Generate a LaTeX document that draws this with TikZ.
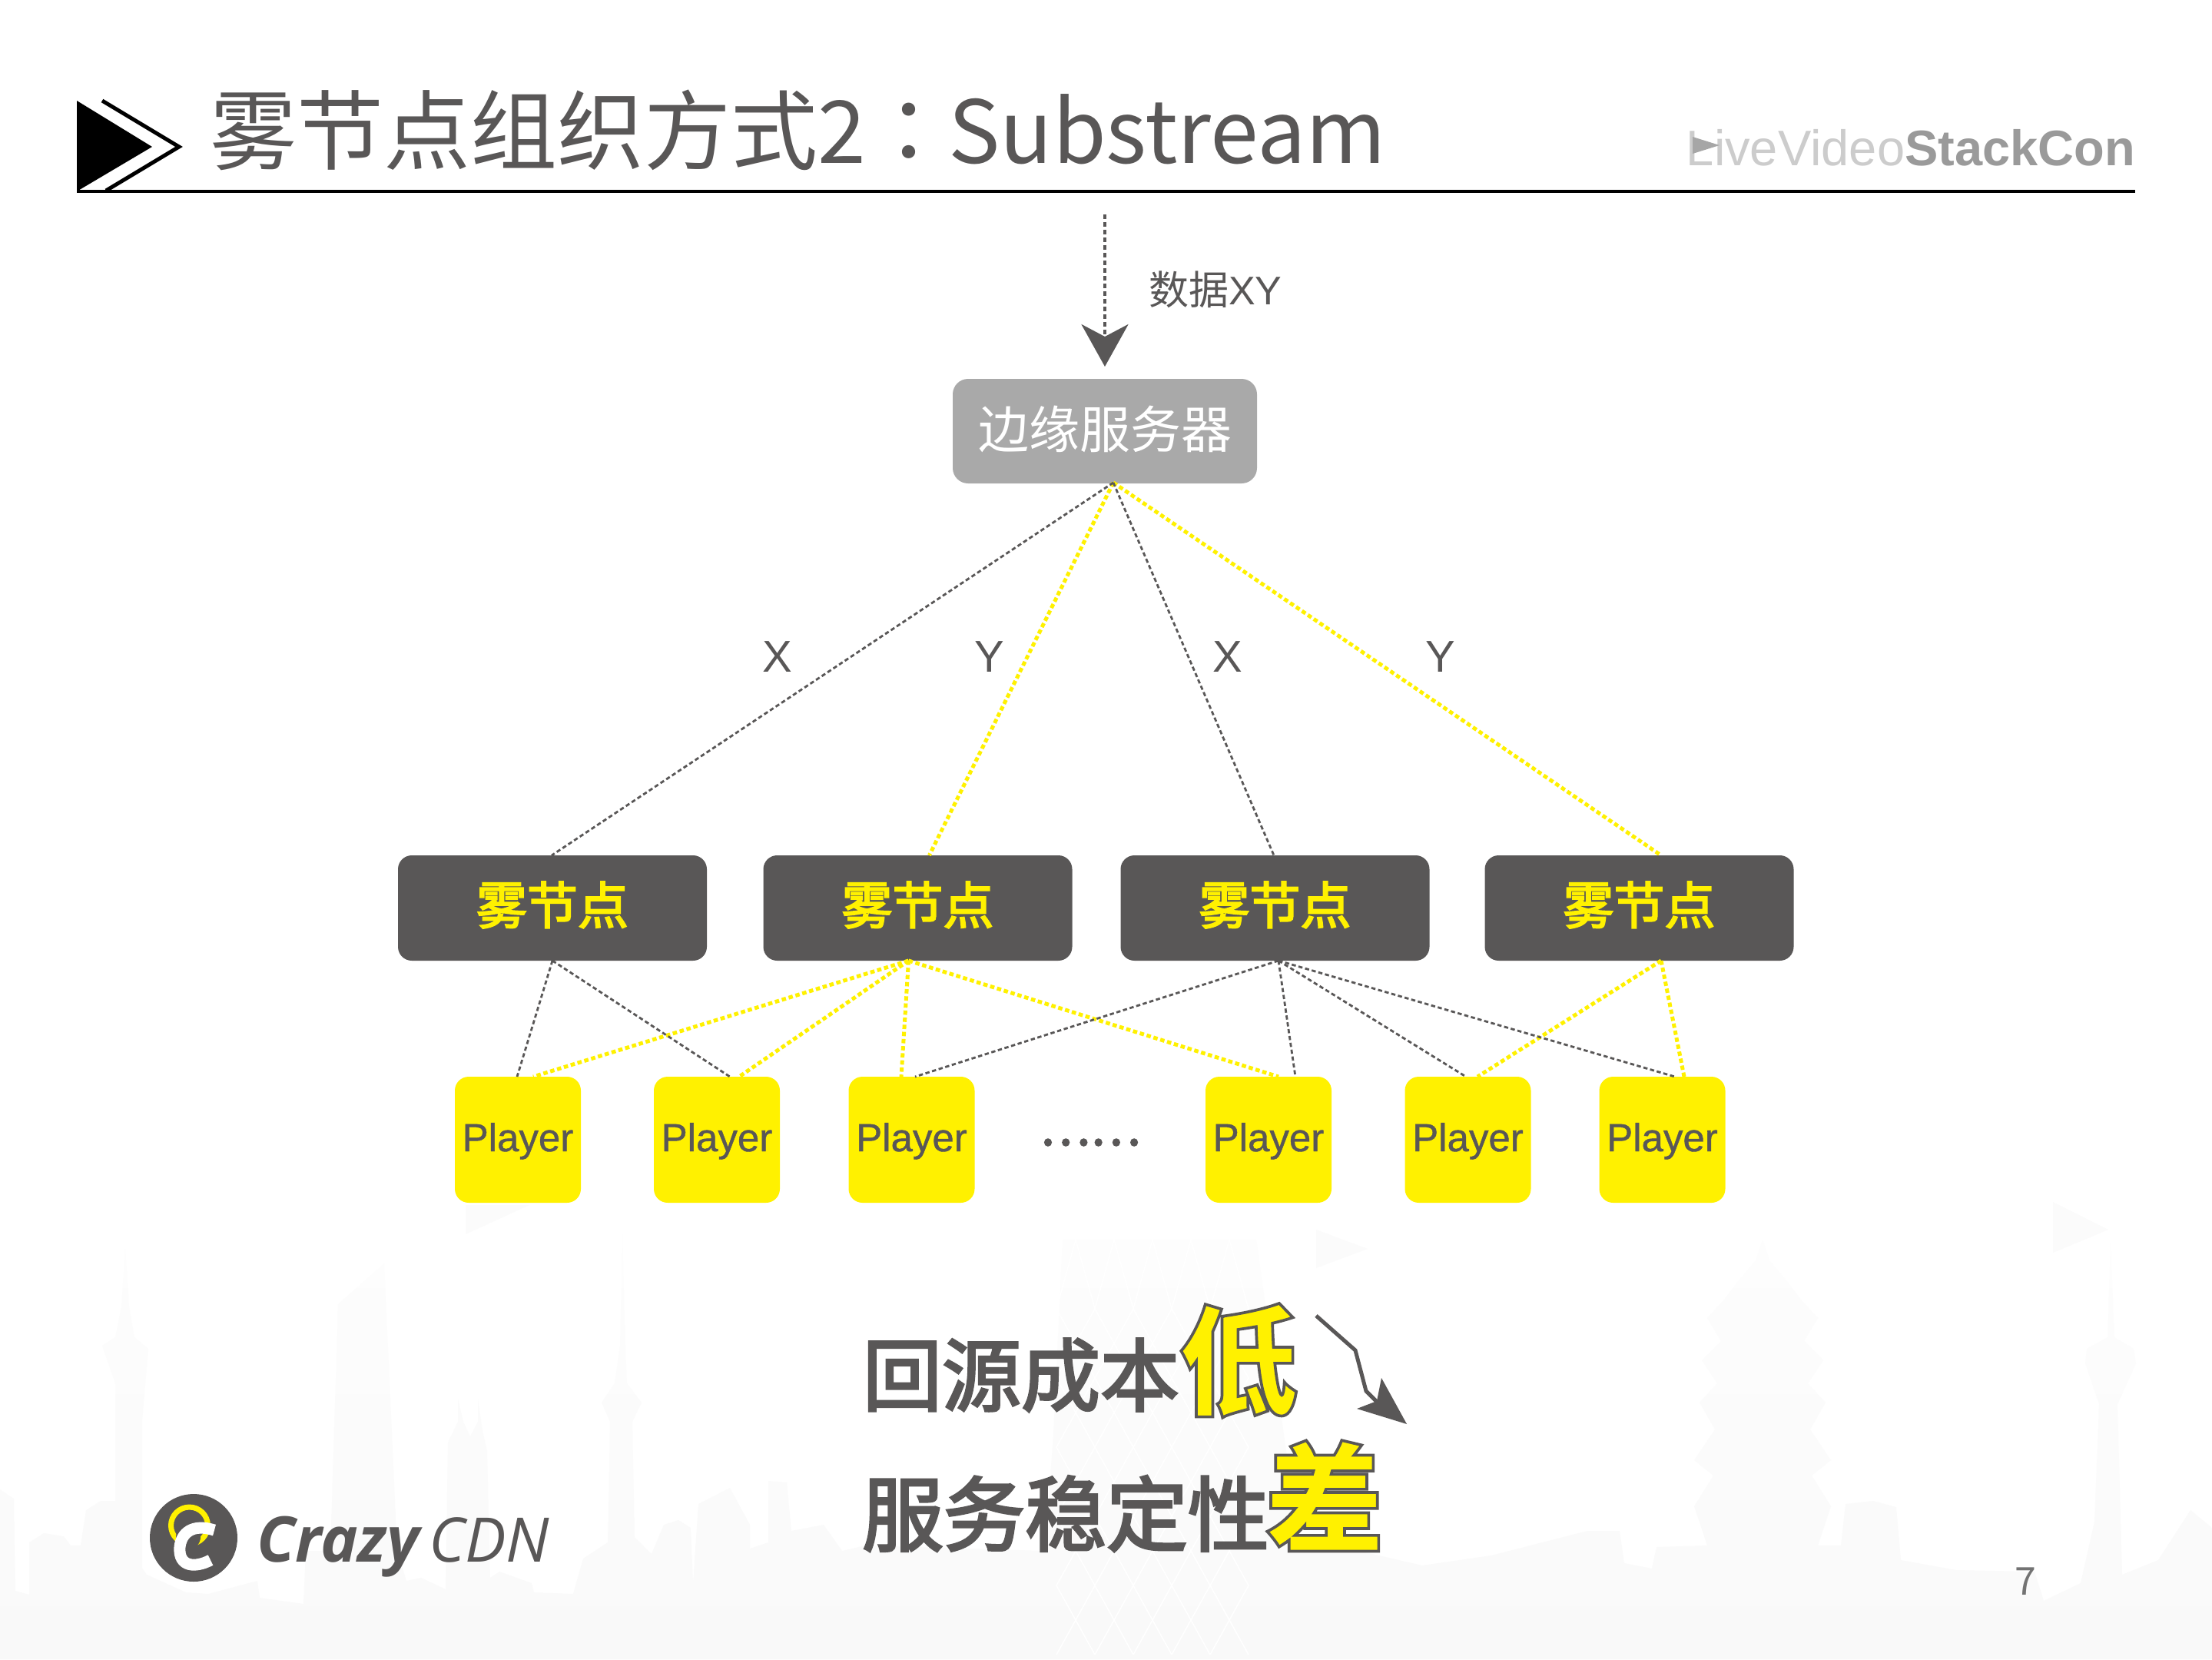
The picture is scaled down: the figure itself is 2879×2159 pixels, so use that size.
\documentclass[tikz,border=0pt]{standalone}
\usepackage{fontspec}
\usetikzlibrary{arrows.meta,calc,positioning}
\setmainfont{Noto Sans CJK SC}
\newfontfamily\cjktc{Noto Sans CJK TC}
\newfontfamily\cjkm[FakeBold=3]{Noto Sans CJK SC}
\newfontfamily\arial{Liberation Sans}
\newfontfamily\arialm[FakeBold=0.8]{Liberation Sans}
\newfontfamily\osans{Open Sans}
\def\pu{0.25mm}
\newcommand\px[1]{\fontsize{\the\dimexpr 0.7113pt*#1\relax}{\the\dimexpr 0.85pt*#1\relax}\selectfont}
\newcommand\outl[1]{\special{pdf:code 2 Tr 2.6 w 0.349 0.341 0.341 RG}#1\special{pdf:code 0 Tr}}
\definecolor{ink}{HTML}{595757}
\definecolor{sun}{HTML}{FFF100}
\definecolor{edgegray}{HTML}{A9A9A9}
\definecolor{city}{HTML}{F9F9F9}
\definecolor{cityhi}{HTML}{FDFDFD}
\definecolor{cityfaint}{HTML}{FBFBFB}
\tikzset{
  x=0.25mm,y=-0.25mm,
  boxbase/.style={rectangle,inner sep=0pt,outer sep=0pt},
  edgebox/.style={boxbase,fill=edgegray,text=white,rounded corners=20*\pu,minimum width=396*\pu,minimum height=136*\pu,text height=52*\pu,text depth=8*\pu,font=\px{66}},
  fogbox/.style={boxbase,fill=ink,text=sun,rounded corners=18*\pu,minimum width=402*\pu,minimum height=137*\pu,text height=50*\pu,text depth=8*\pu,font=\cjkm\px{66}},
  playerbox/.style={boxbase,fill=sun,text=ink,rounded corners=18*\pu,minimum width=164*\pu,minimum height=164*\pu,text height=36*\pu,text depth=6*\pu,font=\arialm\px{51}},
  label/.style={inner sep=0pt,outer sep=0pt,anchor=base,text=ink},
  blink/.style={draw=ink,line width=2.8*\pu,dash pattern=on 3.9pt off 2.5pt},
  ylink/.style={draw=sun,line width=5*\pu,dash pattern=on 4pt off 2.6pt},
}
\begin{document}
\begin{tikzpicture}
\useasboundingbox (0,0) rectangle (2879,2159);
\fill[white] (0,0) rectangle (2879,2159);
% faint city background
\shade[top color=cityhi,bottom color=city] (0,2159)--(0,1938)--(18,1950)--(20,2070)--(38,2075)--(38,2007)--(57,1995)--(83,1999)--(92,2011)--(105,2011)--(112,1965)--(131,1953)--(150,1953)--(150,1800)--(133,1751)--(150,1740)--(158,1700)--(163,1625)--(168,1700)--(175,1740)--(193,1755)--(185,1850)--(185,2040)--(191,2049)--(242,2072)--(271,2074)--(335,2057)--(338,2079)--(395,2087)--(398,2018)--(430,2018)--(440,1697)--(500,1644)--(517,2018)--(529,2057)--(548,2053)--(580,2068)--(583,1877)--(596,1850)--(596,1820)--(603,1850)--(612,1869)--(622,1850)--(622,1820)--(628,1862)--(634,1888)--(638,2053)--(650,2045)--(692,2060)--(695,2072)--(746,2074)--(759,2028)--(791,2007)--(794,1850)--(783,1825)--(800,1800)--(807,1751)--(810,1606)--(814,1751)--(816,1800)--(835,1825)--(823,1850)--(826,2000)--(848,2022)--(864,1984)--(883,1978)--(899,1988)--(902,2060)--(909,1957)--(950,1936)--(976,1984)--(976,2015)--(1000,2007)--(1000,1927)--(1024,1929)--(1030,1992)--(1072,1984)--(1096,2018)--(1126,2011)--(1360,2018)--(1371,1866)--(1383,1613)--(1635,1613)--(1690,2000)--(1851,2037)--(1941,2024)--(2066,1992)--(2108,1992)--(2114,2034)--(2150,2041)--(2156,2013)--(2222,2011)--(2205,1960)--(2230,1920)--(2205,1900)--(2232,1860)--(2212,1825)--(2235,1800)--(2215,1770)--(2240,1745)--(2222,1715)--(2245,1690)--(2260,1670)--(2285,1640)--(2294,1613)--(2303,1640)--(2328,1670)--(2343,1690)--(2366,1715)--(2348,1745)--(2373,1770)--(2353,1800)--(2376,1825)--(2356,1860)--(2383,1900)--(2358,1920)--(2383,1960)--(2366,2011)--(2396,2011)--(2402,1957)--(2438,1953)--(2468,1961)--(2474,2030)--(2546,2043)--(2648,2045)--(2660,2083)--(2708,2060)--(2726,1980)--(2732,1827)--(2714,1774)--(2716,1755)--(2743,1740)--(2747,1617)--(2752,1740)--(2777,1755)--(2780,1774)--(2756,1827)--(2762,2049)--(2809,2030)--(2851,1965)--(2879,1988)--(2879,2159)--cycle;
\foreach \k in {0,1,2,3,4}{
  \draw[white,line width=1.5*\pu] ({1400+50*\k},1613) -- ({1375+50*\k},1703) -- ({1425+50*\k},1793) -- ({1375+50*\k},1883) -- ({1425+50*\k},1973) -- ({1375+50*\k},2063) -- ({1425+50*\k},2153);
  \draw[white,line width=1.5*\pu] ({1400+50*\k},1613) -- ({1425+50*\k},1703) -- ({1375+50*\k},1793) -- ({1425+50*\k},1883) -- ({1375+50*\k},1973) -- ({1425+50*\k},2063) -- ({1375+50*\k},2153);
}
\fill[cityfaint] (606,1568)--(689,1568)--(606,1606)--cycle;
\fill[cityfaint] (1713,1600)--(1780,1625)--(1713,1650)--cycle;
\fill[cityfaint] (2672,1564)--(2744,1600)--(2672,1630)--cycle;
% header mark and rule
\fill[black] (100,131)--(198,191)--(100,249)--cycle;
\draw[black,line width=5*\pu] (133,131)--(233,191)--(138,248);
\draw[black,line width=4*\pu] (100,249)--(2779,249);
\node[label,anchor=base west,font=\px{113}] (title) at (273,212) {雾节点组织方式2{\cjktc：}\hspace{-4pt}Substream};
\node[inner sep=0pt,outer sep=0pt,anchor=base east,font=\arial\px{65}] (brand) at (2779,215) {\textcolor[HTML]{CCCCCC}{LiveVideo}\textcolor[HTML]{9A9A9A}{\bfseries StackCon}};
\fill[gray!70] (2203,178)--(2238,189)--(2203,200)--cycle;
% nodes
\node[edgebox] (edge) at (1438,561) {边缘服务器};
\node[fogbox] (f1) at (719,1181.5) {雾节点};
\node[fogbox] (f2) at (1194.5,1181.5) {雾节点};
\node[fogbox] (f3) at (1659.5,1181.5) {雾节点};
\node[fogbox] (f4) at (2133.5,1181.5) {雾节点};
\node[playerbox] (p1) at (674,1483) {Player};
\node[playerbox] (p2) at (933,1483) {Player};
\node[playerbox] (p3) at (1186.5,1483) {Player};
\node[playerbox] (p4) at (1651,1483) {Player};
\node[playerbox] (p5) at (1910.5,1483) {Player};
\node[playerbox] (p6) at (2163.5,1483) {Player};
\node[label,font=\cjkm\px{62}] (dots) at (1419,1490) {……};
% incoming feed
\coordinate (feed) at (1438,279);
\draw[ink,line width=4*\pu,dash pattern=on 4.2pt off 2.9pt,-{Stealth[length=55*\pu,width=61*\pu,inset=16*\pu]}] (feed) -- ($(edge.north)+(0,-16)$);
\node[label,anchor=base west,font=\px{52}] (feedlabel) at (1495,396) {数据{\arial XY}};
% edge to fog
\coordinate (eo) at ($(edge.south)+(11,-1)$);
\draw[ylink] (eo) -- ($(f2.north)+(15,0)$);
\draw[ylink] (eo) -- ($(f4.north)+(28.5,0)$);
\draw[blink] (eo) -- ($(f1.north)+(-1,0)$);
\draw[blink] (eo) -- ($(f3.north)+(-1.5,0)$);
\node[label,font=\arial\px{58}] (lx1) at (1012,874) {X};
\node[label,font=\arial\px{58}] (ly1) at (1288,874) {Y};
\node[label,font=\arial\px{58}] (lx2) at (1598,874) {X};
\node[label,font=\arial\px{58}] (ly2) at (1875,874) {Y};
% fog to player
\coordinate (f2o) at ($(f2.south)+(-12,0)$);
\coordinate (f4o) at ($(f4.south)+(28.5,0)$);
\coordinate (f3o) at ($(f3.south)+(4.5,0)$);
\draw[ylink] (f2o) -- ($(p1.north)+(20,0)$);
\draw[ylink] (f2o) -- ($(p2.north)+(29,0)$);
\draw[ylink] (f2o) -- ($(p3.north)+(-13.5,0)$);
\draw[ylink] (f2o) -- ($(p4.north)+(13,0)$);
\draw[ylink] (f4o) -- ($(p5.north)+(12.5,0)$);
\draw[ylink] (f4o) -- ($(p6.north)+(28.5,0)$);
\draw[blink] (f1.south) -- ($(p1.north)+(-1,0)$);
\draw[blink] (f1.south) -- ($(p2.north)+(17,0)$);
\draw[blink] (f3o) -- ($(p3.north)+(4.5,0)$);
\draw[blink] (f3o) -- ($(p4.north)+(35,0)$);
\draw[blink] (f3o) -- ($(p5.north)+(-2.5,0)$);
\draw[blink] (f3o) -- ($(p6.north)+(16.5,0)$);
% summary
\node[label,anchor=base west,font=\cjkm\px{103}] (cost) at (1123,1828) {回源成本};
\node[label,anchor=base west,font=\cjkm\px{106}] (stab) at (1122,2010) {服务稳定性};
\node[inner sep=0pt,outer sep=0pt,anchor=base west,text=sun,font=\bfseries\px{155}] (low) at (1534,1829) {\outl{低}};
\node[inner sep=0pt,outer sep=0pt,anchor=base west,text=sun,font=\bfseries\px{155}] (bad) at (1646,2007) {\outl{差}};
\coordinate (s0) at (1713,1712);
\coordinate (s1) at (1764,1757);
\coordinate (s2) at (1778,1810);
\coordinate (s3) at (1794,1826);
\draw[ink,line width=5*\pu] (s0)--(s1)--(s2)--(s3);
\fill[ink] (1831,1853)--(1798,1793)--(1792,1823)--(1766,1833)--cycle;
% logo
\fill[ink] (252,2001) circle (57);
\draw[sun,line width=7*\pu] (246.5,1985) circle (24);
\fill[ink] (245,2000) circle (16);
\draw[white,line width=15*\pu] (279,1991) .. controls (250,1982) and (236,1995) .. (234,2013) .. controls (232,2040) and (255,2040) .. (274,2030);
\node[label,anchor=base west,font=\osans\bfseries\itshape\px{82}] (crazy) at (334,2032) {Crazy};
\node[label,anchor=base west,font=\osans\itshape\px{80}] (cdn) at (558,2032) {CDN};
\node[inner sep=0pt,outer sep=0pt,anchor=base,text=black!55,font=\px{50}] (page) at (2636,2075) {7};
\end{tikzpicture}
\end{document}
